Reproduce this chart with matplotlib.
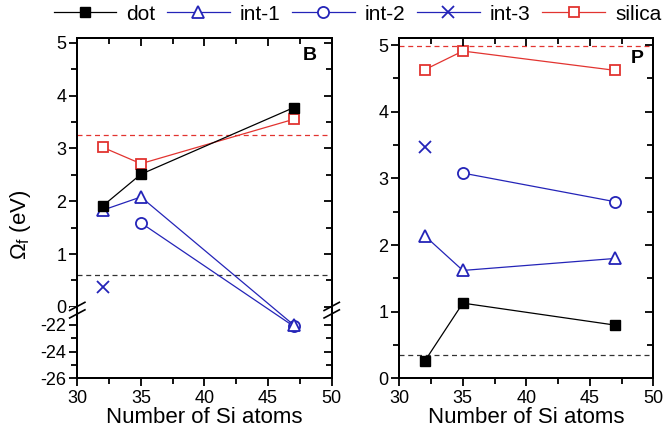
import numpy as np
import matplotlib
matplotlib.use("Agg")
import matplotlib.pyplot as plt
from matplotlib.ticker import MultipleLocator

plt.rcParams["font.family"] = ["Liberation Sans", "DejaVu Sans"]
plt.rcParams["mathtext.default"] = "regular"

# ---- data ----
si_atoms = [32, 35, 47]
two_atoms = [35, 47]
one_atom = [32]

B_dot = [1.91, 2.51, 3.77]
B_int1 = [1.83, 2.08, -22.0]
B_int2 = [1.59, -22.1]
B_int3 = [0.38]
B_silica = [3.02, 2.71, 3.55]
B_ref = {"silica": 3.26, "dot": 0.60}

P_dot = [0.26, 1.13, 0.80]
P_int1 = [2.14, 1.62, 1.80]
P_int2 = [3.08, 2.65]
P_int3 = [3.47]
P_silica = [4.63, 4.91, 4.62]
P_ref = {"silica": 4.98, "dot": 0.35}

B_yticks = [-26, -24, -22, 0, 1, 2, 3, 4, 5]
B_yminor = [-25, -23, 0.5, 1.5, 2.5, 3.5, 4.5]

BLACK = "black"
BLUE = "#2424b8"
RED = "#e23430"

# ---- broken y scale for panel B ----
B_HI = -0.076
B_LO = -20.96
K = 0.2538
EPS = 1e-3


def fwd(y):
    y = np.asarray(y, dtype=float)
    mid = B_HI - EPS + (y - B_LO) * EPS / (B_HI - B_LO)
    low = B_HI - EPS + (y - B_LO) * K
    return np.where(y >= B_HI, y, np.where(y >= B_LO, mid, low))


def inv(t):
    t = np.asarray(t, dtype=float)
    lo_t = B_HI - EPS
    mid = B_LO + (t - lo_t) * (B_HI - B_LO) / EPS
    low = B_LO + (t - lo_t) / K
    return np.where(t >= B_HI, t, np.where(t >= lo_t, mid, low))


def set_b_y(ax):
    ax.set_yscale("function", functions=(fwd, inv))
    ax.set_ylim(-26, 5.095)
    ax.set_yticks(B_yticks)
    ax.set_yticks(B_yminor, minor=True)


def set_p_y(ax):
    ax.set_ylim(0, 5.11)
    ax.yaxis.set_major_locator(MultipleLocator(1))
    ax.yaxis.set_minor_locator(MultipleLocator(0.5))


def set_x(ax):
    ax.set_xlim(30, 50)
    ax.xaxis.set_major_locator(MultipleLocator(5))
    ax.xaxis.set_minor_locator(MultipleLocator(2.5))


def tick_style(ax, **kw):
    ax.tick_params(which="both", width=1.3, **kw)
    ax.tick_params(which="major", length=6)
    ax.tick_params(which="minor", length=4)


fig = plt.figure(figsize=(6.65, 4.42), dpi=100)
axB = fig.add_axes([0.1162, 0.1437, 0.3826, 0.771])
axP = fig.add_axes([0.6005, 0.1437, 0.3820, 0.771])


def draw(ax, dot, int1, int2, int3, silica, ref):
    ms = 7.5
    mew = 1.3
    lw = 0.9
    ax.axhline(ref["silica"], color=RED, ls=(0, (4, 3)), lw=0.9)
    ax.axhline(ref["dot"], color="#333333", ls=(0, (4, 3)), lw=0.9)
    hs = []
    hs += ax.plot(si_atoms, silica, color=RED, lw=lw, marker="s", ms=ms,
                  mfc="white", mec=RED, mew=mew, label="silica")
    hs += ax.plot(two_atoms, int2, color=BLUE, lw=lw, marker="o", ms=ms + 0.5,
                  mfc="white", mec=BLUE, mew=mew, label="int-2")
    hs += ax.plot(si_atoms, int1, color=BLUE, lw=lw, marker="^", ms=ms + 1,
                  mfc="white", mec=BLUE, mew=mew, label="int-1")
    hs += ax.plot(one_atom, int3, color=BLUE, lw=lw, marker="x", ms=ms + 1,
                  mec=BLUE, mew=mew, label="int-3")
    hs += ax.plot(si_atoms, dot, color=BLACK, lw=lw, marker="s", ms=ms,
                  mfc=BLACK, mec=BLACK, label="dot")
    set_x(ax)
    ax.set_xlabel("Number of Si atoms", fontsize=16, labelpad=0)
    for s in ax.spines.values():
        s.set_linewidth(1.3)
    tick_style(ax, direction="out", labelsize=13, pad=2)
    return hs


hB = draw(axB, B_dot, B_int1, B_int2, B_int3, B_silica, B_ref)
hP = draw(axP, P_dot, P_int1, P_int2, P_int3, P_silica, P_ref)

set_b_y(axB)
axB.set_yticklabels([str(v) for v in B_yticks])
axB.set_ylabel(r"$\Omega_f$ (eV)", fontsize=16)
axB.yaxis.set_label_coords(-0.175, 0.45)
set_p_y(axP)

# inward ticks on top and right, through twin axes
for ax, set_y in ((axB, set_b_y), (axP, set_p_y)):
    top = ax.twiny()
    set_x(top)
    tick_style(top, direction="in", top=True, bottom=False,
               labeltop=False, labelbottom=False)
    right = ax.twinx()
    set_y(right)
    tick_style(right, direction="in", right=True, left=False,
               labelright=False, labelleft=False)
    for a in (top, right):
        for s in a.spines.values():
            s.set_linewidth(1.3)

# break marks on panel B
yb = 0.2005
for xb in (0.0, 1.0):
    axB.fill_between([xb - 0.03, xb + 0.03], yb - 0.009, yb + 0.009,
                     transform=axB.transAxes, color="white", clip_on=False,
                     zorder=5, lw=0)
    for off in (-0.011, 0.011):
        axB.plot([xb - 0.03, xb + 0.03], [yb + off - 0.012, yb + off + 0.012],
                 transform=axB.transAxes, color="black", lw=1.2,
                 clip_on=False, zorder=6)

axB.text(0.915, 0.949, "B", transform=axB.transAxes, fontsize=14,
         fontweight="bold", ha="center", va="center")
axP.text(0.936, 0.94, "P", transform=axP.transAxes, fontsize=14,
         fontweight="bold", ha="center", va="center")

order = ["dot", "int-1", "int-2", "int-3", "silica"]
by_label = {h.get_label(): h for h in hB}
fig.legend([by_label[k] for k in order], order, loc="center",
           bbox_to_anchor=(0.5376, 0.968), ncol=5, frameon=False, fontsize=15,
           handlelength=3.0, handletextpad=0.5, columnspacing=0.55,
           borderaxespad=0, borderpad=0)

fig.savefig("out.png", dpi=100)
